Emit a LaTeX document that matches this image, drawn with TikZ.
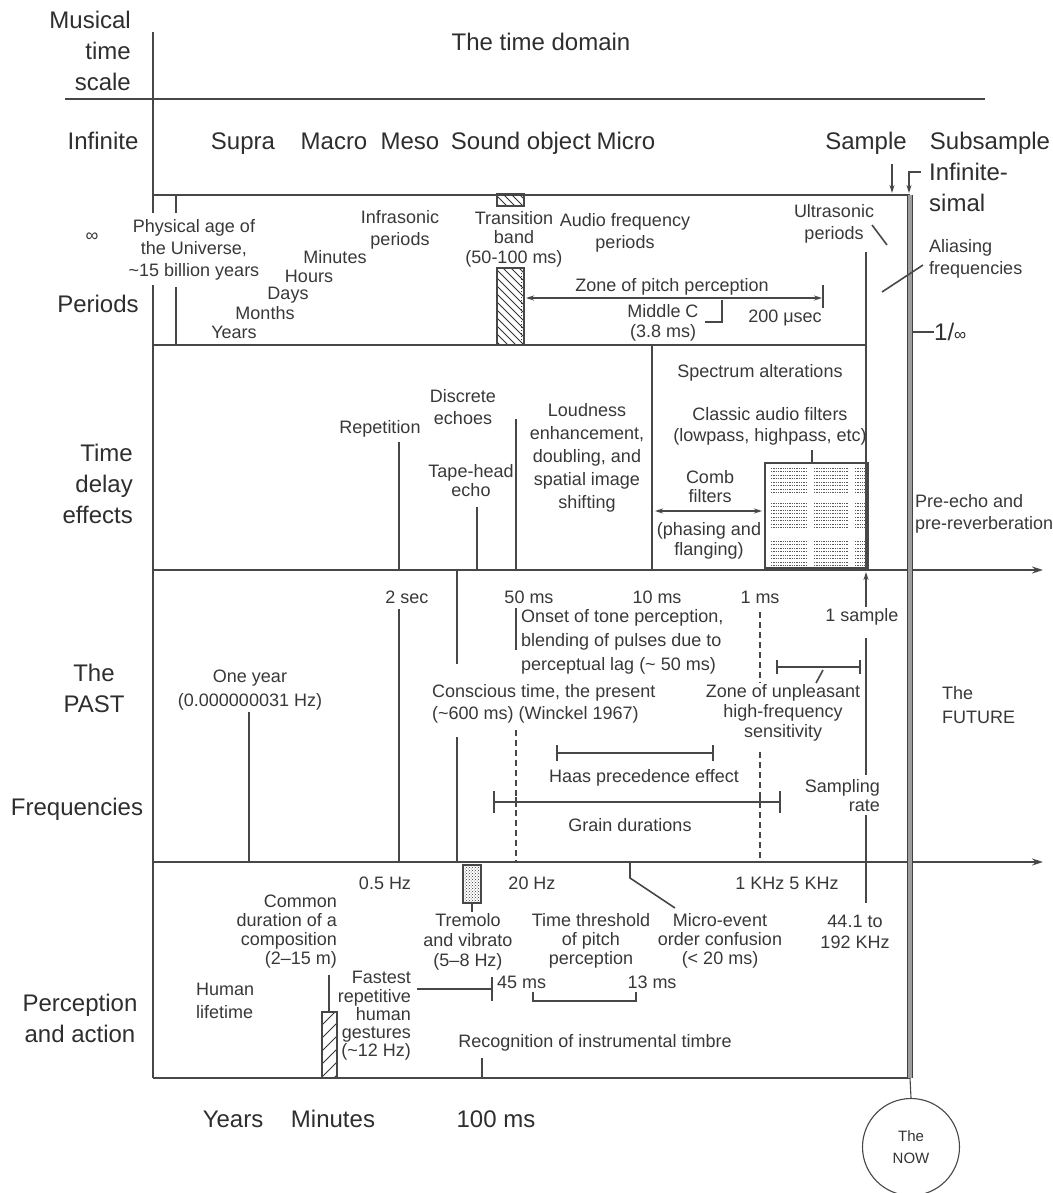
\documentclass[tikz,border=0pt]{standalone}
\usepackage{fontspec}
\setmainfont{Liberation Sans}
\usetikzlibrary{arrows.meta,patterns}
\newcommand{\tld}{\textasciitilde}
\begin{document}
\begin{tikzpicture}[x=1pt,y=-1pt,
  big/.style={font=\fontsize{24}{31}\selectfont, text=black!82, inner sep=0pt, align=center},
  sm/.style={font=\fontsize{18}{22}\selectfont, text=black!78, inner sep=0pt, align=center},
  smlead/.style={font=\fontsize{18}{#1}\selectfont},
  ln/.style={draw=black!72, line width=1.6pt},
  thinln/.style={draw=black!72, line width=1.1pt},
  dsh/.style={ln, dash pattern=on 6pt off 4pt},
  tip/.style={-{Stealth[length=8pt,width=5pt]}},
  axis/.style={ln, -{Stealth[length=11pt,width=7pt]}},
  hatch/.style={draw=black!80, line width=1pt}
]
\useasboundingbox (0,0) rectangle (1052,1193);

% ---------------- frame lines
\draw[ln] (153,32) -- (153,213);
\draw[ln] (153,285) -- (153,1078);
\draw[ln] (65,99) -- (985,99);
\draw[ln] (153,195) -- (910,195);
\draw[ln] (176,195) -- (176,213);
\draw[ln] (176,287) -- (176,345);
\draw[ln] (153,345) -- (866,345);
\draw[ln] (866,252) -- (866,570);
\draw[axis] (153,570) -- (1043,570);
\draw[axis] (153,862) -- (1043,862);
\draw[ln] (153,1078) -- (910,1078);
\draw[double=black!38, double distance=4.5pt, line width=1.2pt, draw=black!75] (910,195) -- (910,1078);

% ---------------- header labels
\node[big, anchor=east, align=right] (mts) at (131,51) {Musical\\time\\scale};
\node[big] (tdom) at (541,42) {The time domain};
\node[big, anchor=base] (inf) at (103,149.5) {Infinite};
\node[big, anchor=base] (supra) at (243,149.5) {Supra};
\node[big, anchor=base] (macro) at (334,149.5) {Macro};
\node[big, anchor=base] (meso) at (410,149.5) {Meso};
\node[big, anchor=base] (sobj) at (521,149.5) {Sound object};
\node[big, anchor=base] (micro) at (626,149.5) {Micro};
\node[big, anchor=base] (sample) at (866,149.5) {Sample};
\node[big, anchor=base] (subs) at (990,149.5) {Subsample};
\node[big, anchor=west] (infs1) at (929,172) {Infinite-};
\node[big, anchor=west] (infs2) at (929,203) {simal};
\draw[ln, tip] (892,164) -- (892,193);
\draw[ln, tip] (921,172) -- (909,172) -- (909,193);

% ---------------- row labels
\node[big] (periods) at (98,304) {Periods};
\node[big, anchor=east, align=right] (tde) at (133,484) {Time\\delay\\effects};
\node[big] (past) at (94,688) {The\\PAST};
\node[big] (freq) at (77,809) {Frequencies};
\node[big] (pna) at (80,1018) {Perception\\and action};
\node[big, anchor=base] (byears) at (233,1127.5) {Years};
\node[big, anchor=base] (bmin) at (333,1127.5) {Minutes};
\node[big, anchor=base] (b100) at (496,1127.5) {100 ms};
\node[big, anchor=west] (oneinf) at (934,332) {1/{\fontsize{17}{17}\selectfont ∞}};
\draw[ln] (912,332) -- (oneinf.west);

% ---------------- periods section
\node[sm] (inf0) at (92,237) {∞};
\node[sm] (phys) at (194,250) {Physical age of\\the Universe,\\\tld15 billion years};
\node[sm] (infra) at (400,230) {Infrasonic\\periods};
\node[sm] (pmin) at (335,257) {Minutes};
\node[sm] (phours) at (309,276) {Hours};
\node[sm] (pdays) at (288,295) {Days};
\node[sm] (pmonths) at (265,313) {Months};
\node[sm] (pyears) at (234,332) {Years};
\node[sm, smlead=19.5] (trans) at (514,239) {Transition\\band\\(50-100 ms)};
\node[sm] (audio) at (625,233) {Audio frequency\\periods};
\node[sm] (ultra) at (834,224) {Ultrasonic\\periods};
\node[sm, anchor=west, align=left] (alias) at (929,259) {Aliasing\\frequencies};
\node[sm] (zpitch) at (672,287) {Zone of pitch perception};
\node[sm, smlead=20] (midc) at (663,323) {Middle C\\(3.8 ms)};
\node[sm] (usec) at (785,318) {200 μsec};

% transition band hatching
\begin{scope}
  \clip (497,194) rectangle (524,206);
  \foreach \k in {-30,-22,...,20} \draw[hatch] (497,{194+\k}) -- ++(30,30);
\end{scope}
\draw[thinln] (497,194) rectangle (524,206);
\begin{scope}
  \clip (497,268) rectangle (524,345);
  \foreach \k in {-30,-22,...,80} \draw[hatch] (497,{268+\k}) -- ++(30,30);
\end{scope}
\draw[thinln] (497,268) rectangle (524,345);
\draw[black!80, line width=1pt, dotted] (521,270) -- (521,343);

\draw[ln, {Stealth[length=8pt,width=5pt]}-{Stealth[length=8pt,width=5pt]}] (526,298) -- (822,298);
\draw[ln] (823,285) -- (823,308);
\draw[ln] (705,322) -- (722,322) -- (722,300);
\draw[ln] (872,225) -- (887,245);
\draw[ln] (882,292) -- (923,265);

% ---------------- time delay section
\node[sm] (rep) at (380,429) {Repetition};
\node[sm] (disc) at (463,407) {Discrete\\echoes};
\node[sm, smlead=19] (tape) at (471,481) {Tape-head\\echo};
\node[sm, smlead=23] (loud) at (587,458) {Loudness\\enhancement,\\doubling, and\\spatial image\\shifting};
\node[sm] (spec) at (760,373) {Spectrum alterations};
\node[sm, smlead=21] (classic) at (770,426) {Classic audio filters\\(lowpass, highpass, etc)};
\node[sm, smlead=19] (comb) at (710,487) {Comb\\filters};
\node[sm, smlead=20] (phase) at (709,541) {(phasing and\\flanging)};
\node[sm, anchor=west, align=left] (pre) at (915,514) {Pre-echo and\\pre-reverberation};

\draw[ln] (399,442) -- (399,570);
\draw[ln] (477,507) -- (477,570);
\draw[ln] (516,419) -- (516,570);
\draw[ln] (652,345) -- (652,570);
\draw[ln] (812,450) -- (812,463);
\draw[ln, {Stealth[length=8pt,width=5pt]}-{Stealth[length=8pt,width=5pt]}] (655,511) -- (762,511);

% comb filter grid
\draw[thinln] (765,463) rectangle (868,568);
\foreach \xa/\xb in {771/806, 814/848, 855/866} {
  \foreach \ya in {468, 503, 541} {
    \foreach \i in {0,...,7}
      \draw[black!65, line width=0.7pt, dash pattern=on 1.3pt off 1pt] (\xa,{\ya+3.5*\i}) -- (\xb,{\ya+3.5*\i});
  }
}

% ---------------- past / frequencies section
\node[sm, smlead=24] (oneyear) at (250,690) {One year\\(0.000000031 Hz)};
\node[sm] (twosec) at (407,597) {2 sec};
\node[sm] (fifty) at (529,597) {50 ms};
\node[sm] (ten) at (657,597) {10 ms};
\node[sm] (onems) at (760,597) {1 ms};
\node[sm, anchor=west, align=left, smlead=24] (onset) at (521,642) {Onset of tone perception,\\blending of pulses due to\\perceptual lag (\tld{} 50 ms)};
\node[sm, anchor=west, align=left] (consc) at (432,704) {Conscious time, the present\\(\tld600 ms) (Winckel 1967)};
\node[sm] (onesamp) at (862,617) {1 sample};
\node[sm, smlead=20] (unpl) at (783,713) {Zone of unpleasant\\high-frequency\\sensitivity};
\node[sm] (haas) at (644,778) {Haas precedence effect};
\node[sm] (grain) at (630,825) {Grain durations};
\node[sm, anchor=east, align=right, smlead=19] (samprate) at (880,796) {Sampling\\rate};
\node[sm, anchor=west, align=left, smlead=24] (future) at (942,705) {The\\FUTURE};

\draw[ln] (249,712) -- (249,862);
\draw[ln] (399,609) -- (399,862);
\draw[ln] (457,570) -- (457,664);
\draw[ln] (457,737) -- (457,862);
\draw[ln] (516,608) -- (516,650);
\draw[dsh] (516,730) -- (516,862);
\draw[dsh] (760,612) -- (760,683);
\draw[dsh] (760,752) -- (760,862);
\draw[ln, tip] (866,607) -- (866,572);
\draw[ln] (866,638) -- (866,775);
\draw[ln] (866,815) -- (866,903);
% unpleasant zone
\draw[ln] (777,667) -- (860,667);
\draw[ln] (777,660) -- (777,674);
\draw[ln] (860,660) -- (860,674);
\draw[ln] (823,670) -- (816,683);
% Haas
\draw[ln] (557,753) -- (713,753);
\draw[ln] (557,745) -- (557,761);
\draw[ln] (713,745) -- (713,761);
% grain
\draw[ln] (494,802) -- (780,802);
\draw[ln] (494,791) -- (494,813);
\draw[ln] (780,791) -- (780,813);
\draw[ln] (516,797) -- (516,807);
\draw[ln] (760,797) -- (760,807);

% ---------------- perception and action section
\node[sm] (halfhz) at (385,883) {0.5 Hz};
\node[sm] (twentyhz) at (532,883) {20 Hz};
\node[sm] (khz) at (787,883) {1 KHz 5 KHz};
\node[sm, smlead=20] (trem) at (468,942) {Tremolo\\and vibrato\\(5–8 Hz)};
\node[sm, smlead=19] (thresh) at (591,941) {Time threshold\\of pitch\\perception};
\node[sm, smlead=19] (microev) at (720,941) {Micro-event\\order confusion\\(< 20 ms)};
\node[sm, smlead=21] (f441) at (855,932) {44.1 to\\192 KHz};
\node[sm, anchor=east, align=right, smlead=19] (common) at (337,932) {Common\\duration of a\\composition\\(2–15 m)};
\node[sm, anchor=west, align=left, smlead=23] (human) at (196,1001) {Human\\lifetime};
\node[sm, anchor=east, align=right, smlead=18.3] (fast) at (411,1016) {Fastest\\repetitive\\human\\gestures\\(\tld12 Hz)};
\node[sm, anchor=west] (ms45) at (497,982) {45 ms};
\node[sm] (ms13) at (652,982) {13 ms};
\node[sm] (recog) at (595,1043) {Recognition of instrumental timbre};

% tremolo box
\draw[thinln, pattern=crosshatch dots, pattern color=black!80] (463,865) rectangle (481,903);
\draw[ln] (472,903) -- (472,912);
% micro-event connector
\draw[ln] (630,862) -- (630,878) -- (675,908);
% composition
\draw[ln] (329,975) -- (329,1012);
\begin{scope}
  \clip (322,1012) rectangle (337,1078);
  \foreach \k in {1012,1025,...,1100} \draw[hatch] (322,\k) -- ++(15,-15);
\end{scope}
\draw[thinln] (322,1012) rectangle (337,1078);
% fastest gestures bracket
\draw[ln] (417,989) -- (492,989);
\draw[ln] (492,977) -- (492,1001);
% time threshold bracket
\draw[ln] (533,992) -- (533,1001) -- (636,1001) -- (636,992);
% timbre tick
\draw[ln] (482,1058) -- (482,1078);

% ---------------- the NOW
\node[draw=black!72, line width=1.1pt, circle, minimum size=97pt, inner sep=0pt,
      font=\fontsize{15}{22}\selectfont, text=black!80, align=center] (now) at (911,1147) {The\\NOW};
\draw[thinln] (910,1078) -- (now.north);
\end{tikzpicture}
\end{document}
